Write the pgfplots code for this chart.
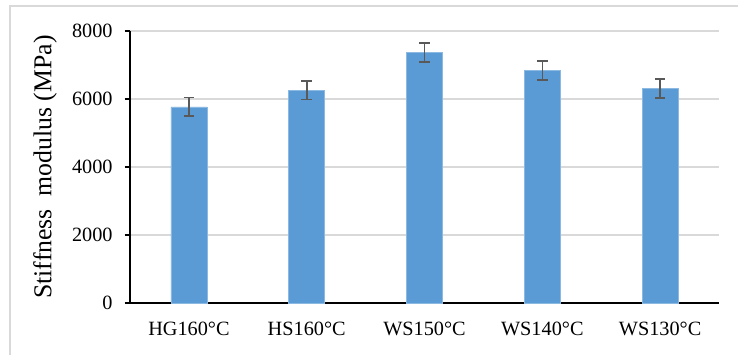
\documentclass[border=0pt]{standalone}
\usepackage{pgfplots}
\pgfplotsset{compat=1.18}
\usepackage{fontspec}
\setmainfont{Liberation Serif}
\definecolor{barblue}{HTML}{5B9BD5}
\definecolor{errgray}{HTML}{595959}
\definecolor{gridgray}{HTML}{D9D9D9}
\begin{document}
\begin{tikzpicture}
\path[use as bounding box] (-97.5pt,-38.25pt) rectangle (456pt,227.25pt);
\draw[gridgray, line width=1pt] (-90pt,-40pt) -- (-90pt,222.75pt) -- (460pt,222.75pt);
\begin{axis}[
  at={(0,0)}, anchor=south west,
  scale only axis,
  width=441.75pt, height=204pt,
  xmin=-0.5, xmax=4.5,
  ymin=0, ymax=8000,
  axis lines*=left,
  axis line style={black, line width=0.8pt},
  ytick={0,2000,4000,6000,8000},
  xtick={0,1,2,3,4},
  xticklabels={HG160°C, HS160°C, WS150°C, WS140°C, WS130°C},
  x tick style={draw=none},
  extra x ticks={-0.5,0.5,1.5,2.5,3.5,4.5},
  extra x tick labels={},
  extra x tick style={grid=none, tick style={draw=black, line width=0.8pt}, major tick length=5pt, tick align=outside},
  y tick style={black, line width=0.8pt},
  major tick length=4pt,
  tick align=outside,
  ymajorgrids,
  grid style={gridgray, line width=1pt},
  /pgf/number format/assume math mode=true,
  /pgf/number format/1000 sep={},
  ticklabel style={font=\fontsize{15.2}{17}\selectfont},
  yticklabel style={xshift=-5.5pt},
  xticklabel style={yshift=-7pt},
  ylabel={Stiffness\ \ modulus (MPa)},
  every axis y label/.style={at={(rel axis cs:0,0.5)}, rotate=90, anchor=center, yshift=63.75pt, font=\fontsize{19.3}{22}\selectfont},
  clip=false,
]
\addplot[ybar, bar width=27pt, fill=barblue, draw=barblue!70!white, line width=0.4pt,
  error bars/.cd, y dir=both, y explicit,
  error bar style={errgray, line width=1.2pt},
  error mark options={errgray, line width=1.2pt, mark size=4pt, rotate=90}]
  coordinates {
  (0,5770) +- (0,275)
  (1,6260) +- (0,275)
  (2,7370) +- (0,280)
  (3,6835) +- (0,280)
  (4,6305) +- (0,280)
};
\end{axis}
\end{tikzpicture}
\end{document}
